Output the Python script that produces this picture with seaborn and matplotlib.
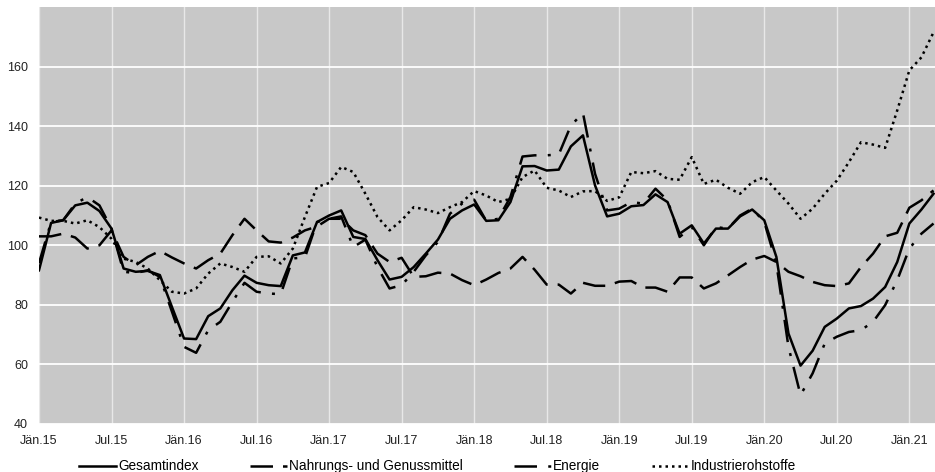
import matplotlib
matplotlib.use("Agg")
import matplotlib.pyplot as plt
import seaborn as sns
import pandas as pd
import numpy as np

tick_labels = ["Jän.15", "Jul.15", "Jän.16", "Jul.16", "Jän.17", "Jul.17", "Jän.18",
               "Jul.18", "Jän.19", "Jul.19", "Jän.20", "Jul.20", "Jän.21"]

gesamt = [91.6, 107.5, 108.4, 113.4, 114.3, 111.5, 105.6, 92.2, 91.1, 91.4, 90.0, 79.3,
          68.7, 68.5, 76.2, 78.8, 84.9, 89.8, 87.4, 86.6, 86.3, 96.6, 97.6, 107.8,
          110.0, 111.7, 102.8, 102.1, 95.0, 88.5, 89.4, 92.7, 97.2, 101.9, 108.9, 111.7,
          113.7, 108.2, 108.4, 114.5, 126.5, 126.6, 125.1, 125.4, 133.2, 136.9, 120.1, 109.7,
          110.6, 113.1, 113.5, 117.1, 114.5, 103.9, 106.7, 100.6, 105.6, 105.6, 109.7, 112.0,
          108.4, 96.1, 70.4, 59.6, 64.6, 72.6, 75.4, 78.8, 79.6, 82.1, 86.0, 94.4,
          107.3, 112.0, 117.3]

nahrung = [103.0, 103.0, 103.9, 102.6, 98.9, 100.0, 105.0, 96.1, 93.3, 96.1, 98.1, 95.9,
           93.9, 92.2, 95.0, 97.2, 103.4, 108.9, 105.0, 101.3, 100.9, 102.6, 105.0, 106.3,
           108.9, 108.9, 105.0, 103.4, 97.2, 94.4, 95.8, 89.4, 89.6, 90.8, 90.5, 88.3,
           86.6, 88.5, 90.7, 92.2, 96.1, 91.8, 86.8, 86.8, 83.8, 87.4, 86.4, 86.4,
           87.8, 88.0, 85.8, 85.8, 84.4, 89.2, 89.2, 85.5, 87.2, 89.9, 92.7, 95.2,
           96.4, 94.4, 91.1, 89.6, 87.7, 86.6, 86.3, 87.2, 92.7, 97.2, 103.0, 104.2,
           112.6, 115.1, 118.4]

energie = [94.0, 107.8, 108.4, 114.0, 116.2, 113.4, 105.6, 91.1, 90.7, 91.6, 89.4, 77.7,
           65.9, 63.9, 71.5, 74.3, 81.0, 87.4, 84.4, 83.8, 83.6, 95.6, 95.9, 107.8,
           108.9, 109.7, 99.4, 101.9, 92.7, 85.5, 86.6, 91.1, 96.6, 101.1, 110.6, 114.0,
           115.3, 108.2, 108.9, 116.2, 129.8, 130.2, 130.2, 130.5, 140.2, 144.4, 124.0, 111.7,
           112.3, 114.5, 114.0, 119.0, 115.1, 102.8, 106.1, 100.0, 106.1, 105.6, 110.0, 112.3,
           107.8, 93.9, 65.9, 49.7, 57.0, 67.0, 69.3, 70.9, 71.5, 74.3, 79.9, 88.3,
           98.9, 103.9, 107.3]

industrie = [109.3, 108.2, 108.2, 107.3, 108.4, 106.1, 102.2, 95.5, 94.4, 92.2, 88.3, 84.4,
             83.8, 85.5, 90.5, 93.9, 92.7, 91.1, 96.1, 96.3, 93.9, 98.9, 109.5, 119.6,
             120.9, 126.3, 124.6, 117.3, 109.5, 105.0, 108.4, 112.8, 112.0, 110.8, 112.8, 114.5,
             118.2, 116.7, 114.5, 115.6, 122.9, 125.1, 119.3, 118.4, 116.2, 118.1, 118.2, 114.9,
             116.1, 124.6, 124.2, 124.9, 122.3, 122.0, 129.6, 120.6, 122.0, 119.3, 117.3, 121.2,
             122.9, 118.4, 114.0, 108.9, 112.3, 117.3, 121.7, 127.9, 134.6, 133.8, 132.7, 145.3,
             158.7, 163.1, 171.5]

series_names = ["Gesamtindex", "Nahrungs- und Genussmittel", "Energie", "Industrierohstoffe"]
series_values = [gesamt, nahrung, energie, industrie]

rows = []
for name, vals in zip(series_names, series_values):
    for i, v in enumerate(vals):
        rows.append({"month": i, "value": v, "series": name})
df = pd.DataFrame(rows)

plt.rcParams["font.family"] = ["Liberation Sans", "DejaVu Sans"]

fig = plt.figure(figsize=(9.35, 4.72), dpi=100)
ax = fig.add_axes([0.0417, 0.1017, 0.958, 0.8835])
ax.set_facecolor("#c8c8c8")

dashes = {
    "Gesamtindex": "",
    "Nahrungs- und Genussmittel": (9, 4),
    "Energie": (9, 4.5, 1.2, 4.5),
    "Industrierohstoffe": (1, 1.6),
}
sns.lineplot(data=df, x="month", y="value", hue="series", style="series",
             hue_order=series_names, style_order=series_names,
             palette=["black"] * 4, dashes=dashes, linewidth=1.8, ax=ax,
             legend=True)

ax.set_xlim(0, 74.1)
ax.set_ylim(40, 180)
ax.set_xticks(np.arange(0, 73, 6))
ax.set_xticklabels(tick_labels)
ax.set_yticks(np.arange(40, 161, 20))
ax.grid(True, axis="y", color="white", linewidth=1.3)
ax.grid(True, axis="x", color="#e8e8e8", linewidth=1.0)
ax.set_axisbelow(True)
for s in ax.spines.values():
    s.set_visible(False)
ax.tick_params(length=0, labelsize=9, colors="#222222")
ax.tick_params(axis="x", pad=8)
ax.tick_params(axis="y", pad=8)
ax.set_xlabel("")
ax.set_ylabel("")

handles, labels = ax.get_legend_handles_labels()
ax.legend_.remove()
fig.legend(handles, labels, loc="lower center", bbox_to_anchor=(0.468, -0.026),
           ncol=4, frameon=False, fontsize=9.8, handlelength=2.7, handletextpad=0.15,
           columnspacing=3.8, borderpad=0.3)

fig.savefig("out.png", dpi=100)
